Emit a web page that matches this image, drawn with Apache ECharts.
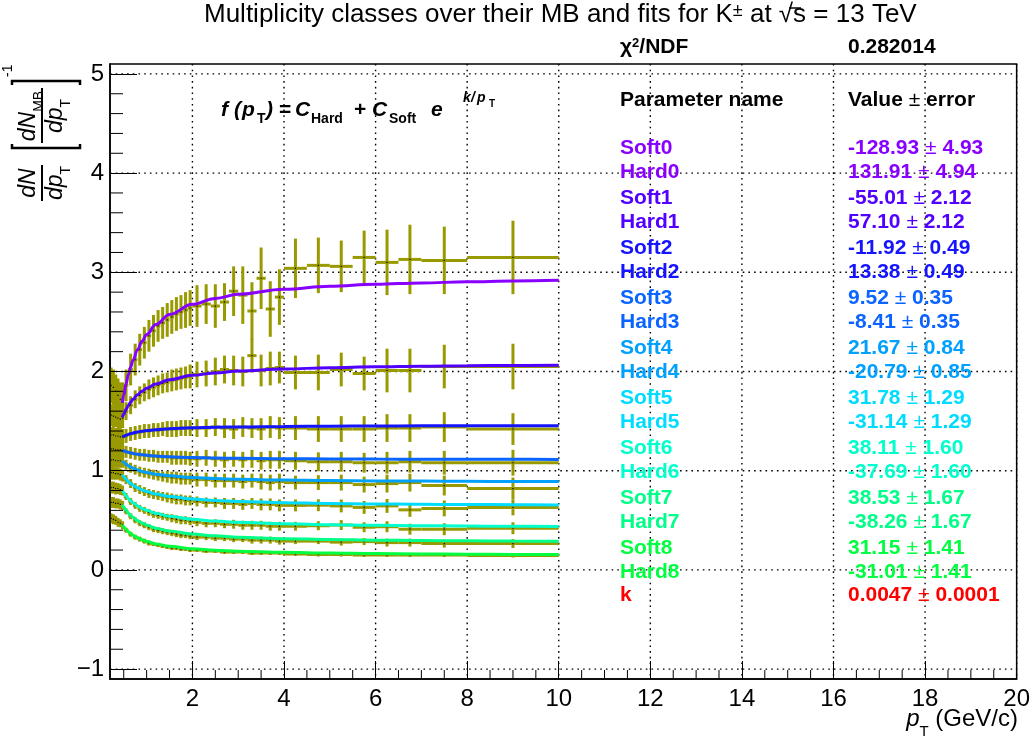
<!DOCTYPE html>
<html><head><meta charset="utf-8">
<script src="https://cdn.jsdelivr.net/npm/echarts@6/dist/echarts.min.js"></script>
<style>html,body{margin:0;padding:0;background:#fff}#c{width:1033px;height:740px}</style>
</head><body><div id="c"></div>
<script>
// ---------- data ----------
const binEdges = [0.2,0.25,0.3,0.35,0.4,0.45,0.5,0.6,0.7,0.8,0.9,1.0,1.1,1.2,1.3,1.4,1.5,1.6,1.7,1.8,1.9,2.0,2.2,2.4,2.6,2.8,3.0,3.2,3.4,3.6,3.8,4.0,4.5,5.0,5.5,6.0,6.5,7.0,8.0,10.0];

const vals0 = [1.86,1.84,1.80,1.76,1.72,1.72, 1.86,2.02,2.12,2.22,2.29,2.36,2.41,2.46,2.49,2.52,2.55,2.58,2.60,2.62,2.64, 2.66,2.68,2.66,2.70,2.81,2.77,2.61,2.94,2.63,2.75, 3.04,3.07,3.06,3.15,3.10,3.13,3.12,3.15];
const errs0 = [0.18,0.18,0.17,0.17,0.17,0.17, 0.16,0.16,0.16,0.16,0.16,0.16,0.16,0.16,0.16,0.17,0.17,0.17,0.17,0.18,0.18, 0.21,0.20,0.22,0.19,0.25,0.29,0.29,0.31,0.28,0.28, 0.30,0.28,0.26,0.27,0.33,0.35,0.34,0.37];
const vals1 = [1.56,1.55,1.54,1.53,1.52,1.53, 1.60,1.66,1.72,1.76,1.79,1.82,1.84,1.86,1.88,1.89,1.91,1.92,1.93,1.94,1.95, 1.97,1.98,2.00,2.02,2.01,2.00,2.16,2.01,2.03,2.04, 1.99,1.99,2.02,1.98,2.01,2.01,2.05,2.05];
const errs1 = [0.11,0.11,0.10,0.10,0.10,0.10, 0.09,0.09,0.09,0.09,0.09,0.10,0.10,0.10,0.10,0.10,0.11,0.11,0.11,0.11,0.12, 0.13,0.13,0.14,0.14,0.15,0.15,0.17,0.16,0.17,0.16, 0.17,0.18,0.17,0.17,0.22,0.22,0.22,0.23];
const vals2 = [1.36,1.36,1.35,1.35,1.34,1.34, 1.35,1.37,1.38,1.39,1.40,1.40,1.41,1.41,1.42,1.42,1.42,1.42,1.43,1.43,1.43, 1.43,1.43,1.44,1.43,1.42,1.44,1.43,1.42,1.44,1.43, 1.43,1.42,1.42,1.42,1.43,1.43,1.44,1.42];
const errs2 = [0.08,0.08,0.08,0.08,0.08,0.08, 0.07,0.07,0.07,0.07,0.07,0.07,0.07,0.07,0.07,0.08,0.08,0.08,0.08,0.08,0.08, 0.09,0.09,0.09,0.10,0.10,0.10,0.10,0.11,0.11,0.11, 0.12,0.13,0.13,0.13,0.14,0.14,0.15,0.16];
const vals3 = [1.22,1.22,1.21,1.21,1.21,1.20, 1.19,1.18,1.17,1.16,1.16,1.15,1.15,1.14,1.14,1.14,1.13,1.13,1.13,1.13,1.12, 1.12,1.13,1.12,1.11,1.12,1.11,1.12,1.10,1.11,1.11, 1.10,1.09,1.09,1.08,1.08,1.09,1.08,1.08];
const errs3 = [0.07,0.07,0.07,0.07,0.07,0.07, 0.06,0.06,0.06,0.06,0.06,0.06,0.06,0.06,0.06,0.06,0.07,0.07,0.07,0.07,0.07, 0.08,0.08,0.08,0.08,0.08,0.08,0.09,0.09,0.09,0.09, 0.09,0.095,0.10,0.10,0.11,0.11,0.12,0.13];
const vals4 = [1.11,1.11,1.10,1.10,1.10,1.09, 1.06,1.03,1.01,0.99,0.98,0.97,0.96,0.95,0.94,0.94,0.93,0.93,0.92,0.92,0.92, 0.91,0.91,0.90,0.90,0.90,0.89,0.90,0.89,0.88,0.89, 0.88,0.88,0.88,0.86,0.87,0.88,0.85,0.82];
const errs4 = [0.07,0.07,0.07,0.07,0.07,0.06, 0.05,0.05,0.05,0.05,0.05,0.05,0.05,0.05,0.05,0.06,0.06,0.06,0.06,0.06,0.06, 0.07,0.07,0.07,0.07,0.07,0.07,0.07,0.08,0.08,0.08, 0.07,0.075,0.08,0.08,0.09,0.09,0.10,0.11];
const vals5 = [0.98,0.98,0.97,0.97,0.96,0.95, 0.91,0.87,0.83,0.81,0.79,0.77,0.76,0.75,0.74,0.73,0.72,0.71,0.71,0.70,0.70, 0.69,0.68,0.68,0.67,0.67,0.66,0.67,0.66,0.66,0.65, 0.65,0.652,0.645,0.63,0.645,0.605,0.62,0.63];
const errs5 = [0.07,0.07,0.06,0.06,0.06,0.06, 0.045,0.045,0.045,0.045,0.045,0.045,0.045,0.045,0.045,0.05,0.05,0.05,0.05,0.05,0.05, 0.05,0.05,0.05,0.055,0.055,0.055,0.055,0.06,0.06,0.06, 0.06,0.06,0.065,0.065,0.07,0.07,0.08,0.08];
const vals6 = [0.83,0.83,0.82,0.82,0.81,0.80, 0.74,0.69,0.65,0.62,0.60,0.58,0.56,0.55,0.54,0.53,0.52,0.51,0.50,0.50,0.49, 0.48,0.47,0.47,0.46,0.46,0.45,0.45,0.45,0.44,0.44, 0.44,0.445,0.452,0.43,0.435,0.41,0.41,0.42];
const errs6 = [0.06,0.06,0.06,0.055,0.055,0.05, 0.035,0.035,0.035,0.035,0.035,0.035,0.035,0.035,0.035,0.035,0.04,0.04,0.04,0.04,0.04, 0.04,0.04,0.04,0.04,0.045,0.045,0.045,0.045,0.045,0.045, 0.045,0.045,0.05,0.05,0.055,0.055,0.06,0.06];
const vals7 = [0.68,0.68,0.67,0.67,0.66,0.65, 0.59,0.54,0.50,0.47,0.45,0.43,0.41,0.40,0.39,0.38,0.37,0.36,0.35,0.35,0.34, 0.33,0.33,0.32,0.32,0.31,0.31,0.30,0.30,0.30,0.29, 0.29,0.29,0.28,0.285,0.275,0.275,0.265,0.265];
const errs7 = [0.055,0.055,0.05,0.05,0.05,0.045, 0.03,0.03,0.03,0.03,0.03,0.03,0.03,0.03,0.03,0.03,0.03,0.03,0.03,0.03,0.03, 0.03,0.03,0.03,0.03,0.03,0.03,0.035,0.035,0.035,0.035, 0.03,0.03,0.035,0.035,0.04,0.04,0.04,0.045];
const vals8 = [0.52,0.51,0.50,0.48,0.47,0.45, 0.40,0.36,0.33,0.31,0.29,0.27,0.26,0.25,0.24,0.23,0.22,0.22,0.21,0.21,0.20, 0.20,0.19,0.19,0.18,0.18,0.18,0.17,0.17,0.17,0.17, 0.16,0.155,0.155,0.15,0.15,0.15,0.15,0.145];
const errs8 = [0.05,0.05,0.045,0.045,0.04,0.04, 0.025,0.025,0.025,0.025,0.025,0.025,0.02,0.02,0.02,0.02,0.02,0.02,0.02,0.02,0.02, 0.02,0.02,0.02,0.02,0.02,0.02,0.02,0.02,0.02,0.02, 0.02,0.02,0.02,0.02,0.02,0.02,0.02,0.02];

// fit curves
const fitPt = [0.47,0.5,0.55,0.6,0.65,0.7,0.8,0.9,1.0,1.2,1.5,2,2.5,3,4,5,6,7,8,9,10];
const fit0 = [1.684,1.762,1.874,1.966,2.044,2.111,2.220,2.305,2.373,2.474,2.575,2.677,2.737,2.778,2.828,2.859,2.879,2.893,2.904,2.913,2.919];
const fit1 = [1.537,1.570,1.618,1.657,1.691,1.719,1.766,1.802,1.831,1.874,1.917,1.961,1.986,2.004,2.025,2.038,2.047,2.053,2.058,2.061,2.064];
const fit2 = [1.340,1.347,1.358,1.366,1.374,1.380,1.390,1.398,1.404,1.413,1.423,1.432,1.438,1.441,1.446,1.449,1.451,1.452,1.453,1.454,1.454];
const fit3 = [1.206,1.200,1.192,1.185,1.179,1.174,1.166,1.160,1.155,1.147,1.140,1.132,1.128,1.125,1.121,1.119,1.117,1.116,1.116,1.115,1.114];
const fit4 = [1.098,1.085,1.066,1.050,1.037,1.026,1.008,0.993,0.982,0.965,0.948,0.931,0.921,0.914,0.905,0.900,0.897,0.895,0.893,0.891,0.890];
const fit5 = [0.959,0.940,0.913,0.890,0.871,0.854,0.827,0.806,0.790,0.765,0.740,0.715,0.700,0.690,0.677,0.670,0.665,0.661,0.659,0.657,0.655];
const fit6 = [0.803,0.780,0.747,0.720,0.697,0.677,0.645,0.620,0.600,0.570,0.540,0.510,0.492,0.480,0.465,0.456,0.450,0.446,0.442,0.440,0.438];
const fit7 = [0.657,0.634,0.601,0.573,0.550,0.530,0.497,0.472,0.452,0.421,0.391,0.361,0.343,0.330,0.315,0.306,0.300,0.296,0.293,0.290,0.288];
const fit8 = [0.453,0.434,0.407,0.385,0.366,0.350,0.324,0.303,0.287,0.262,0.238,0.213,0.199,0.189,0.177,0.169,0.164,0.161,0.158,0.156,0.155];

// axis ticks
const xMajor = [2,4,6,8,10,12,14,16,18,20];
const xMinor = [0.5,1,1.5,2.5,3,3.5,4.5,5,5.5,6.5,7,7.5,8.5,9,9.5,10.5,11,11.5,12.5,13,13.5,14.5,15,15.5,16.5,17,17.5,18.5,19,19.5];
const yMajor = [-1,0,1,2,3,4,5];
const yMinor = [-0.8,-0.6,-0.4,-0.2,0.2,0.4,0.6,0.8,1.2,1.4,1.6,1.8,2.2,2.4,2.6,2.8,3.2,3.4,3.6,3.8,4.2,4.4,4.6,4.8];

// fit parameter table
const paramNames = ['Soft0','Hard0','Soft1','Hard1','Soft2','Hard2','Soft3','Hard3','Soft4','Hard4','Soft5','Hard5','Soft6','Hard6','Soft7','Hard7','Soft8','Hard8','k'];
const paramValues = ['-128.93','131.91','-55.01','57.10','-11.92','13.38','9.52','-8.41','21.67','-20.79','31.78','-31.14','38.11','-37.69','38.53','-38.26','31.15','-31.01','0.0047'];
const paramErrors = ['4.93','4.94','2.12','2.12','0.49','0.49','0.35','0.35','0.84','0.85','1.29','1.29','1.60','1.60','1.67','1.67','1.41','1.41','0.0001'];
const chi2ndf = '0.282014';

const classColors = ['#8800ff','#5200ff','#1414ff','#0a64ff','#00a0ff','#00dcff','#00ffcc','#00ff88','#00ff40'];
const kColor = '#ff0000';
const OLIVE = '#999900';
const FONT = "'Liberation Sans', Arial, Helvetica, sans-serif";

// ---------- build ----------
const allVals = [vals0,vals1,vals2,vals3,vals4,vals5,vals6,vals7,vals8];
const allErrs = [errs0,errs1,errs2,errs3,errs4,errs5,errs6,errs7,errs8];
const allFits = [fit0,fit1,fit2,fit3,fit4,fit5,fit6,fit7,fit8];

function renderErr(params, api) {
  const x0 = api.value(0), x1 = api.value(1), y = api.value(2), e = api.value(3);
  const pL = api.coord([x0, y]), pR = api.coord([x1, y]);
  const xc = (x0 + x1) / 2;
  const pT = api.coord([xc, y + e]), pB = api.coord([xc, y - e]);
  const st = {stroke: OLIVE, lineWidth: 3};
  return {type: 'group', children: [
    {type: 'line', shape: {x1: pL[0], y1: pL[1], x2: pR[0], y2: pR[1]}, style: st},
    {type: 'line', shape: {x1: pT[0], y1: pT[1], x2: pB[0], y2: pB[1]}, style: st},
    {type: 'rect', shape: {x: pT[0] - 0.6, y: pL[1] - 0.6, width: 1.2, height: 1.2}, style: {fill: '#000'}}
  ]};
}
const dotted = {stroke: '#000', lineWidth: 1.4, lineDash: [1.6, 4.1]};
const tickStyle = {stroke: '#000', lineWidth: 1};
function renderVGrid(params, api) {
  const cs = params.coordSys;
  const p = api.coord([api.value(0), 0]);
  return {type: 'line', shape: {x1: p[0], y1: cs.y, x2: p[0], y2: cs.y + cs.height}, style: dotted};
}
function renderHGrid(params, api) {
  const cs = params.coordSys;
  const p = api.coord([1, api.value(1)]);
  return {type: 'line', shape: {x1: cs.x, y1: p[1], x2: cs.x + cs.width, y2: p[1]}, style: dotted};
}
function renderXMinor(params, api) {
  const cs = params.coordSys;
  const p = api.coord([api.value(0), 0]);
  const yb = cs.y + cs.height;
  return {type: 'line', shape: {x1: p[0], y1: yb, x2: p[0], y2: yb - 9}, style: tickStyle};
}
function renderYMinor(params, api) {
  const cs = params.coordSys;
  const p = api.coord([1, api.value(1)]);
  return {type: 'line', shape: {x1: cs.x, y1: p[1], x2: cs.x + 13, y2: p[1]}, style: tickStyle};
}

const series = [
  {type: 'custom', renderItem: renderVGrid, z: 1, silent: true, encode: {x: 0, y: 1}, data: xMajor.map(v => [v, 0])},
  {type: 'custom', renderItem: renderHGrid, z: 1, silent: true, encode: {x: 0, y: 1}, data: yMajor.map(v => [1, v])}
];
allVals.forEach((v, c) => {
  series.push({
    type: 'custom', renderItem: renderErr, xAxisIndex: 0, yAxisIndex: 0, z: 2,
    encode: {x: [0, 1], y: [2]},
    data: v.map((val, i) => [binEdges[i], binEdges[i + 1], val, allErrs[c][i]])
  });
});
allFits.forEach((f, c) => {
  series.push({
    type: 'line', xAxisIndex: 0, yAxisIndex: 0, z: 3, showSymbol: false, smooth: 0.4, smoothMonotone: 'x',
    lineStyle: {color: classColors[c], width: 3},
    data: fitPt.map((x, i) => [x, f[i]])
  });
});
series.push({type: 'custom', renderItem: renderXMinor, z: 6, silent: true, encode: {x: 0, y: 1}, data: xMinor.map(v => [v, 0])});
series.push({type: 'custom', renderItem: renderYMinor, z: 6, silent: true, encode: {x: 0, y: 1}, data: yMinor.map(v => [1, v])});

const graphics = [];
// title
graphics.push({type: 'text', x: 204, y: 2, style: {
  text: 'Multiplicity classes over their MB and fits for K{sup|\u00b1} at \u221As = 13 TeV',
  fontFamily: FONT, fontSize: 26, fill: '#000', align: 'left', verticalAlign: 'top',
  rich: {sup: {fontSize: 18, fontFamily: FONT, verticalAlign: 'bottom', padding: [0, 0, 8, 0], fill: '#000'}}
}});
graphics.push({type: 'line', shape: {x1: 789, y1: 8, x2: 801, y2: 8}, style: {stroke: '#000', lineWidth: 1.5}});
// chi2
graphics.push({type: 'text', x: 620, y: 47, style: {
  text: '\u03c7{sup|2}/NDF', fontFamily: FONT, fontSize: 21, fontWeight: 'bold', fill: '#000', align: 'left', verticalAlign: 'middle',
  rich: {sup: {fontSize: 13, fontWeight: 'bold', fontFamily: FONT, verticalAlign: 'top', fill: '#000'}}
}});
graphics.push({type: 'text', x: 848, y: 47, style: {
  text: chi2ndf, fontFamily: FONT, fontSize: 21, fontWeight: 'bold', fill: '#000', align: 'left', verticalAlign: 'middle'
}});
// table header
graphics.push({type: 'text', x: 620, y: 100, style: {
  text: 'Parameter name', fontFamily: FONT, fontSize: 21, fontWeight: 'bold', fill: '#000', align: 'left', verticalAlign: 'middle'
}});
graphics.push({type: 'text', x: 848, y: 100, style: {
  text: '{b|Value} {r|\u00b1} {b|error}', fontFamily: FONT, fontSize: 21, fill: '#000', align: 'left', verticalAlign: 'middle',
  rich: {b: {fontFamily: FONT, fontSize: 21, fontWeight: 'bold', fill: '#000'}, r: {fontFamily: FONT, fontSize: 21, fill: '#000'}}
}});
paramNames.forEach((name, i) => {
  const cls = Math.floor(i / 2);
  const col = i < 18 ? classColors[cls] : kColor;
  const y = i < 18 ? (i % 2 === 0 ? 148 + 50 * cls : 172 + 50 * cls) : 595;
  graphics.push({type: 'text', x: 620, y: y, z: 10, style: {
    text: name, fontFamily: FONT, fontSize: 21, fontWeight: 'bold', fill: col, align: 'left', verticalAlign: 'middle'
  }});
  graphics.push({type: 'text', x: 848, y: y, z: 10, style: {
    text: '{b|' + paramValues[i] + '} {r|\u00b1} {b|' + paramErrors[i] + '}', fontFamily: FONT, fontSize: 21, fill: col,
    align: 'left', verticalAlign: 'middle',
    rich: {b: {fontFamily: FONT, fontSize: 21, fontWeight: 'bold', fill: col}, r: {fontFamily: FONT, fontSize: 21, fill: col}}
  }});
});
// formula f(pT) = C_Hard + C_Soft e^{k/pT}, tokens placed individually
const formulaTokens = [
  ['f', 221, 110, 21, 'italic'], ['(', 234, 110, 21, 'italic'], ['p', 242, 110, 21, 'italic'], ['T', 257, 119, 14, 'normal'],
  [')', 266, 110, 21, 'italic'], ['=', 279, 110, 21, 'normal'], ['C', 295, 110, 21, 'italic'], ['Hard', 311, 119, 14, 'normal'],
  ['+', 354, 110, 21, 'normal'], ['C', 372, 110, 21, 'italic'], ['Soft', 389, 119, 14, 'normal'], ['e', 431, 110, 21, 'italic'],
  ['k', 463, 98, 14, 'italic'], ['/', 471, 98, 14, 'italic'], ['p', 477, 98, 14, 'italic'], ['T', 489, 104, 10, 'normal']
];
formulaTokens.forEach(t => {
  graphics.push({type: 'text', x: t[1], y: t[2], style: {
    text: t[0], fontFamily: FONT, fontSize: t[3], fontWeight: 'bold', fontStyle: t[4], fill: '#000', align: 'left', verticalAlign: 'middle'
  }});
});
// x axis title
graphics.push({type: 'text', x: 1018, y: 719, style: {
  text: '{i|p}{sub|T} (GeV/c)', fontFamily: FONT, fontSize: 24, fill: '#000', align: 'right', verticalAlign: 'middle',
  rich: {i: {fontFamily: FONT, fontSize: 24, fontStyle: 'italic', fill: '#000'}, sub: {fontFamily: FONT, fontSize: 15, fill: '#000', verticalAlign: 'bottom', padding: [0, 0, -8, 0]}}
}});
// y axis title (rotated)
const itRich = {i: {fontFamily: FONT, fontSize: 23, fontStyle: 'italic', fill: '#000'}, sub: {fontFamily: FONT, fontSize: 14, fill: '#000', verticalAlign: 'bottom', padding: [0, 0, -6, 0]}};
graphics.push({type: 'group', x: 42, y: 183, rotation: Math.PI / 2, children: [
  {type: 'line', shape: {x1: -18, y1: 0, x2: 18, y2: 0}, style: {stroke: '#000', lineWidth: 2}},
  {type: 'text', x: 0, y: -2, style: {text: '{i|dN}', align: 'center', verticalAlign: 'bottom', rich: itRich}},
  {type: 'text', x: 0, y: 2, style: {text: '{i|dp}{sub|T}', align: 'center', verticalAlign: 'top', rich: itRich}},
  {type: 'line', shape: {x1: 40, y1: 0, x2: 95, y2: 0}, style: {stroke: '#000', lineWidth: 2}},
  {type: 'text', x: 67, y: -2, style: {text: '{i|dN}{sub|MB}', align: 'center', verticalAlign: 'bottom', rich: itRich}},
  {type: 'text', x: 67, y: 2, style: {text: '{i|dp}{sub|T}', align: 'center', verticalAlign: 'top', rich: itRich}},
  {type: 'polyline', shape: {points: [[39, -30], [35, -30], [35, 38], [39, 38]]}, style: {stroke: '#000', lineWidth: 2.5, fill: null}},
  {type: 'polyline', shape: {points: [[98, -30], [102, -30], [102, 38], [98, 38]]}, style: {stroke: '#000', lineWidth: 2.5, fill: null}},
  {type: 'text', x: 106, y: -27, style: {text: '-1', fontFamily: FONT, fontSize: 14, fill: '#000', align: 'left', verticalAlign: 'bottom'}}
]});

const option = {
  animation: false,
  backgroundColor: '#fff',
  grid: {left: 110, right: 15, top: 64, bottom: 61, show: true, borderColor: '#000', borderWidth: 1.5, backgroundColor: 'transparent'},
  xAxis: {
    type: 'value', min: 0.2, max: 20, position: 'bottom', z: 6,
    axisLine: {show: true, onZero: false, lineStyle: {color: '#000', width: 1.5}},
    axisTick: {show: true, inside: true, length: 18, customValues: xMajor, lineStyle: {color: '#000', width: 1}},
    axisLabel: {show: true, customValues: xMajor, color: '#000', fontSize: 24, fontFamily: FONT, margin: 8},
    splitLine: {show: false}
  },
  yAxis: {
    type: 'value', min: -1.1, max: 5.1, position: 'left', z: 6,
    axisLine: {show: true, onZero: false, lineStyle: {color: '#000', width: 1.5}},
    axisTick: {show: true, inside: true, length: 27, customValues: yMajor, lineStyle: {color: '#000', width: 1}},
    axisLabel: {show: true, customValues: yMajor, color: '#000', fontSize: 24, fontFamily: FONT, margin: 6,
      formatter: v => String(v).replace('-', '\u2212')},
    splitLine: {show: false}
  },
  series: series,
  graphic: graphics
};
const chart = echarts.init(document.getElementById('c'), null, {renderer: 'canvas'});
chart.setOption(option);
</script></body></html>
